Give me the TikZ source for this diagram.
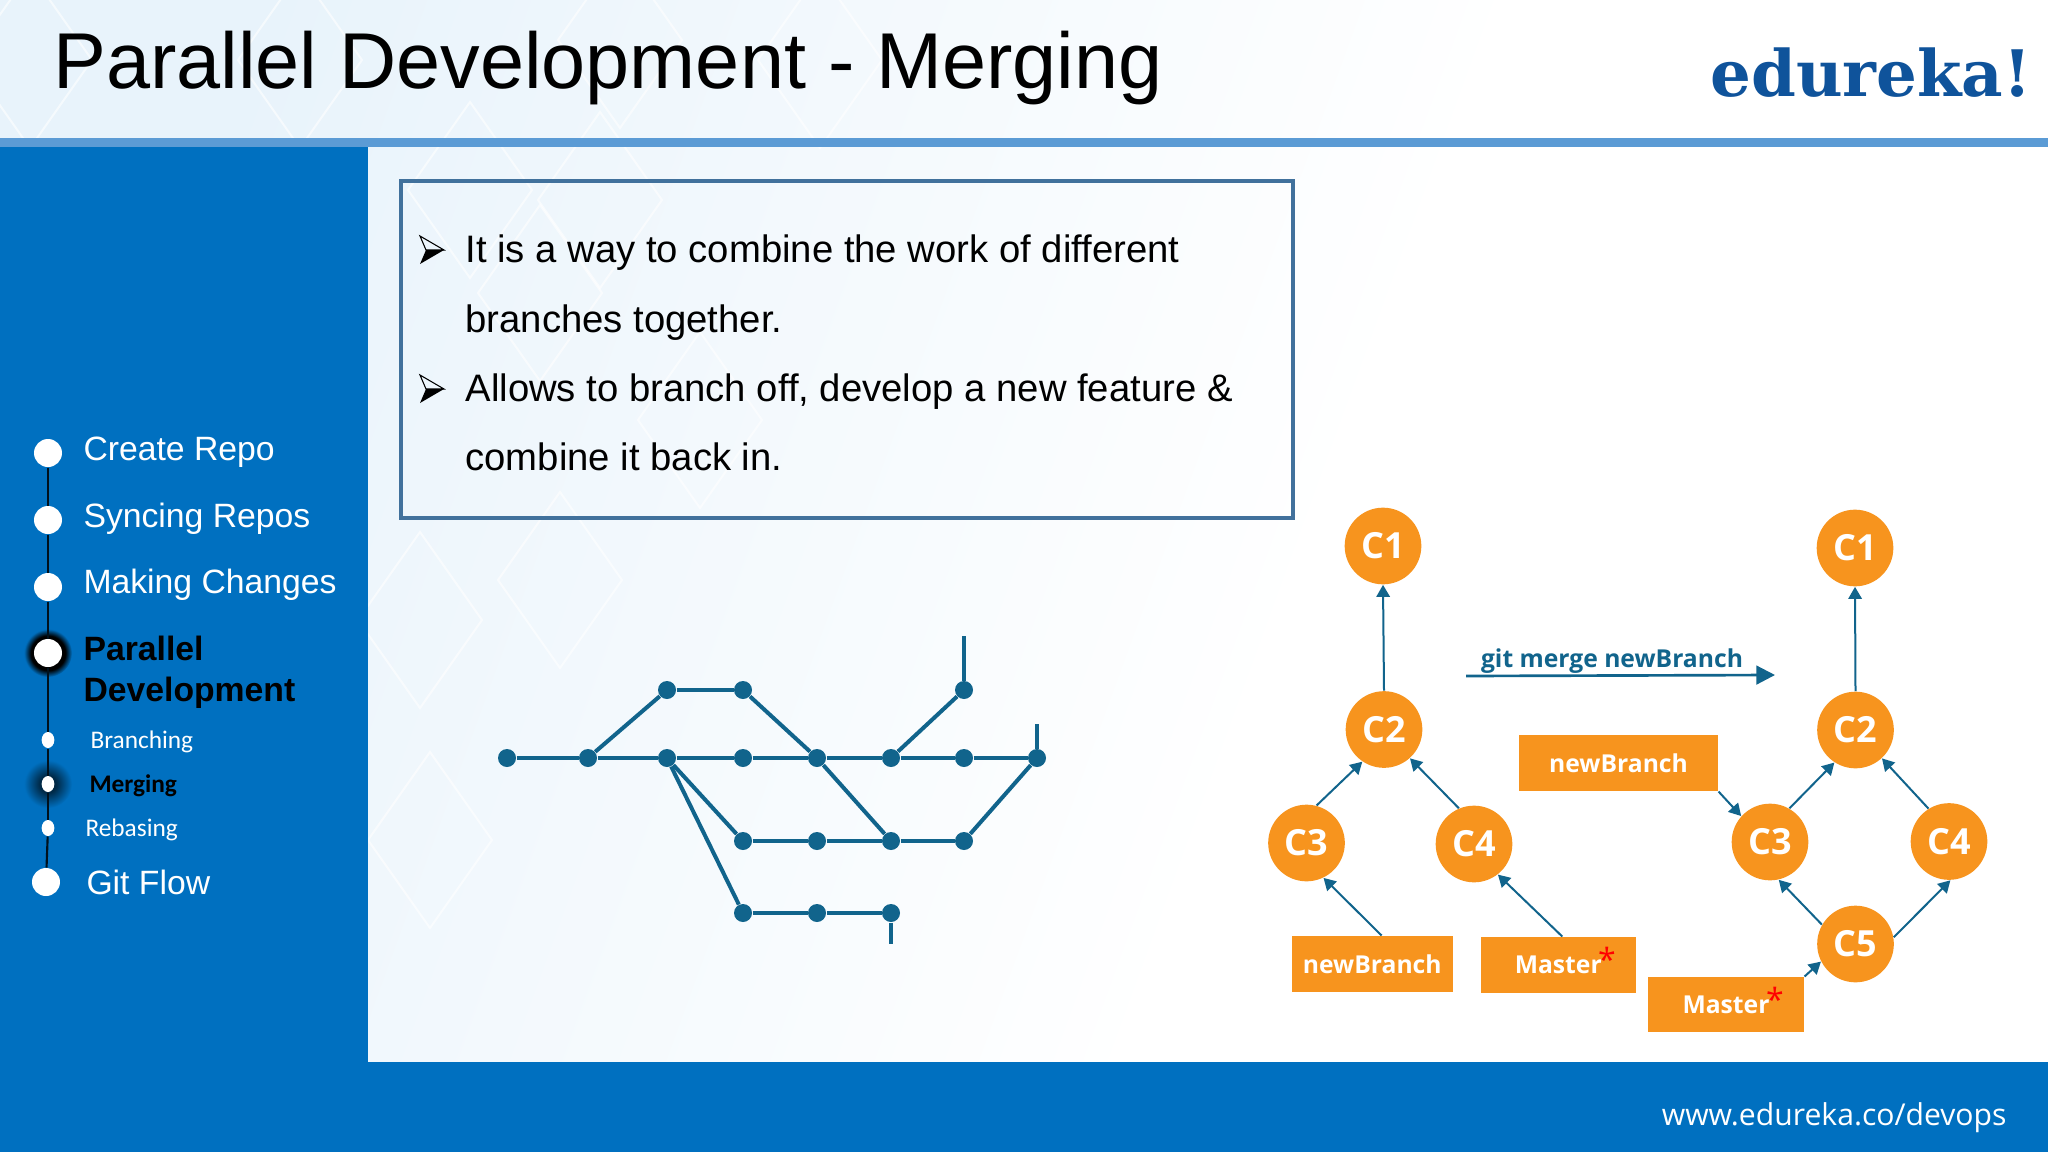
\documentclass[tikz,border=0pt]{standalone}
\usepackage{fontspec}
\setmainfont{Liberation Sans}
\newfontfamily\opensans{Open Sans}
\newfontfamily\carlito{Carlito}
\newfontfamily\logofont{DejaVu Serif}
\usetikzlibrary{arrows.meta,shapes.geometric}
\definecolor{sidebar}{RGB}{0,112,192}
\definecolor{topbar}{RGB}{91,155,213}
\definecolor{boxline}{RGB}{65,113,156}
\definecolor{teal}{RGB}{17,100,140}
\definecolor{commit}{RGB}{247,148,30}
\definecolor{logoblue}{RGB}{15,83,155}
\definecolor{paleblue}{RGB}{232,243,251}
\pgfdeclareradialshading{strongglow}{\pgfpointorigin}{color(0bp)=(black); color(18bp)=(black); color(25bp)=(sidebar); color(50bp)=(sidebar)}
\pgfdeclareradialshading{softglow}{\pgfpointorigin}{color(0bp)=(black!75!sidebar); color(9bp)=(black!62!sidebar); color(25bp)=(sidebar); color(50bp)=(sidebar)}
\pgfdeclarehorizontalshading{paleaxis}{100bp}{color(0bp)=(paleblue); color(25bp)=(paleblue); color(58bp)=(white); color(100bp)=(white)}
\tikzset{every picture/.style={line width=0.75pt}}
\tikzset{
	stop/.style={circle,fill=white,inner sep=0pt,minimum size=21pt},
	substop/.style={ellipse,fill=white,inner sep=0pt,minimum width=9.5pt,minimum height=12pt},
	menu/.style={anchor=base west,inner sep=0pt,text=white,font=\fontsize{25.3}{25.3}\selectfont},
	submenu/.style={anchor=base west,inner sep=0pt,text=white,font=\carlito\fontsize{19}{19}\selectfont},
	point/.style={anchor=base west,inner sep=0pt,text=black,font=\fontsize{28.7}{28.7}\selectfont},
	dot/.style={circle,fill=teal,inner sep=0pt,minimum size=13.5pt},
	rail/.style={draw=teal,line width=3pt},
	commitnode/.style={circle,fill=commit,text=white,inner sep=0pt,minimum size=57.5pt,font=\opensans\bfseries\fontsize{27}{27}\selectfont},
	refnode/.style={rectangle,fill=commit,text=white,inner sep=0pt,font=\opensans\bfseries\fontsize{18.5}{18.5}\selectfont},
	starnode/.style={inner sep=0pt,text=red,font=\opensans\fontsize{24}{24}\selectfont},
	link/.style={draw=teal,line width=1.5pt,-{Triangle[length=9pt,width=10pt]}},
}
\begin{document}
\begin{tikzpicture}[x=0.75pt,y=0.75pt,yscale=-1,xscale=1]
	\useasboundingbox (0,0) rectangle (2048,1152);
	%Shape: backgrounds
	\fill [white] (0,0) rectangle (2048,1152);
	\shade [shading=paleaxis,shading angle=-20] (0,0) rectangle (2048,1062);
	\foreach \x/\y in {540/293,600/200,420/620,560/580,430/840,700/420,470/190,30/60,300/60,620/40,820/60}
		\draw [white,line width=1.5pt,opacity=0.6] (\x-62,\y) -- (\x,\y-88) -- (\x+62,\y) -- (\x,\y+88) -- cycle;
	\fill [topbar] (0,138) rectangle (2048,147);
	\fill [sidebar] (0,147) rectangle (368,1152);
	\fill [sidebar] (368,1062) rectangle (2048,1152);

	% Text Node
	\draw (53,89) node [anchor=base west][inner sep=0pt] (title) {\fontsize{59.4}{59.4}\selectfont Parallel Development - Merging};
	% Text Node
	\draw (2032,97) node [anchor=base east][inner sep=0pt,text=logoblue] (logo) {\logofont\bfseries\fontsize{48.1}{48.1}\selectfont edureka!};
	% Text Node
	\draw (2007,1125) node [anchor=base east][inner sep=0pt,text=white] (site) {\opensans\fontsize{22.6}{22.6}\selectfont www.edureka.co/devops};

	%Shape: Rectangle
	\draw [boxline,line width=3.2pt] (401,181) rectangle (1293,518);
	%Shape: bullet heads
	\foreach \y in {250,389} {
		\draw [black,line width=0.8pt,line join=miter] (420,\y-14) -- (444,\y) -- (426,\y) -- cycle;
		\fill [black] (444,\y) -- (420,\y+14) -- (426,\y) -- cycle;
	}
	\draw (465,262) node [point] (linea) {It is a way to combine the work of different};
	\draw (465,332) node [point] (lineb) {branches together.};
	\draw (465,401) node [point] (linec) {Allows to branch off, develop a new feature \&};
	\draw (465,470) node [point] (lined) {combine it back in.};

	%Shape: Glow
	\shade [shading=softglow] (48,784) circle (24);
	\shade [shading=strongglow] (48,653) circle (24);
	\foreach \a/\b/\c in {48/453/create,48/520/syncing,48/587/making,48/653/parallel,46/882/gitflow}
		\node [stop] (\c) at (\a,\b) {};
	\foreach \a/\b/\c in {48/740/branching,48/784/merging,48/828/rebasing}
		\node [substop] (\c) at (\a,\b) {};
	\foreach \a/\b in {create/syncing,syncing/making,making/parallel,parallel/branching,branching/merging,merging/rebasing,rebasing/gitflow}
		\draw [black!85!sidebar,line width=1.6pt] (\a) -- (\b);

	% Text Node
	\draw (83,460) node [menu] (tcreate) {Create Repo};
	\draw (83,527) node [menu] (tsyncing) {Syncing Repos};
	\draw (83,593) node [menu] (tmaking) {Making Changes};
	\draw (83,660) node [menu,text=black,font=\bfseries\fontsize{25.3}{25.3}\selectfont] (tparallel) {Parallel};
	\draw (83,701) node [menu,text=black,font=\bfseries\fontsize{25.3}{25.3}\selectfont] (tdevelopment) {Development};
	\draw (90,748) node [submenu] (tbranching) {Branching};
	\draw (89,792) node [submenu,text=black,font=\carlito\bfseries\fontsize{19}{19}\selectfont] (tmerging) {Merging};
	\draw (85,836) node [submenu] (trebasing) {Rebasing};
	\draw (86,894) node [menu] (tgitflow) {Git Flow};

	%Shape: branch dots
	\foreach \n/\x/\y in {a/507/758,b/588/758,c/667/758,d/743/758,e/817/758,f/891/758,g/964/758,h/1037/758,u/667/690,v/743/690,t/964/690,m/743/841,n/817/841,o/891/841,p/964/841,q/743/913,r/817/913,s/891/913}
		\node [dot] (\n) at (\x,\y) {};
	\coordinate (tend) at (964,636);
	\coordinate (hend) at (1037,724);
	\coordinate (send) at (891,944);
	\foreach \a/\b in {a/b,b/c,c/d,d/e,e/f,f/g,g/h,b/u,u/v,v/e,f/t,t/tend,h/hend,c/m,m/n,n/o,o/p,p/h,e/o,c/q,q/r,r/s,s/send}
		\draw [rail] (\a) -- (\b);

	%Shape: commits left
	\node [commitnode] (cia) at (1383,546) {C1};
	\node [commitnode] (cib) at (1384,729.5) {C2};
	\node [commitnode] (cic) at (1306.5,843) {C3};
	\node [commitnode] (cid) at (1474,844) {C4};
	\node [refnode,minimum width=120.4pt,minimum height=42pt] (refnew) at (1372.25,964) {newBranch};
	\node [refnode,minimum width=116.6pt,minimum height=42pt] (refmaster) at (1558.25,965) {Master};
	\draw (1607,959) node [starnode] (stara) {*};
	\draw [link] (cib.north) -- (cia.south);
	\draw [link] (cic.75) -- (cib.236);
	\draw [link] (cid.113) -- (cib.-48);
	\draw [link] ([xshift=7pt]refnew.north) -- (cic.-64);
	\draw [link] ([xshift=3pt]refmaster.north) -- (cid.-52);

	% Text Node
	\coordinate (mergestart) at (1466,676);
	\coordinate (mergeend) at (1775,675);
	\draw [teal,line width=2pt,-{Triangle[length=14pt,width=14pt]}] (mergestart) -- (mergeend);
	\draw (1612,667) node [anchor=base,inner sep=0pt,text=teal,font=\opensans\bfseries\fontsize{18.5}{18.5}\selectfont] (merge) {git merge newBranch};

	%Shape: commits right
	\node [commitnode] (cja) at (1855,548) {C1};
	\node [commitnode] (cjb) at (1855.5,730) {C2};
	\node [commitnode] (cjc) at (1770,842) {C3};
	\node [commitnode] (cjd) at (1949,841.5) {C4};
	\node [commitnode] (cje) at (1855.5,944) {C5};
	\node [refnode,minimum width=149.25pt,minimum height=42pt] (refnewb) at (1618.5,763) {newBranch};
	\node [refnode,minimum width=117pt,minimum height=41.25pt] (refmasterb) at (1726,1004.5) {Master};
	\draw (1775,999) node [starnode] (starb) {*};
	\draw [link] (cjb.north) -- (cja.south);
	\draw [link] (cjc.60) -- (cjb.-123);
	\draw [link] (cjd.122) -- (cjb.-47);
	\draw [link] (cje.150) -- (cjc.-77);
	\draw [link] (cje.10) -- (cjd.-88);
	\draw [link] (refnewb.south east) -- (cjc.138);
	\draw [link] (refmasterb.north east) -- (cje.207);
\end{tikzpicture}
\end{document}
